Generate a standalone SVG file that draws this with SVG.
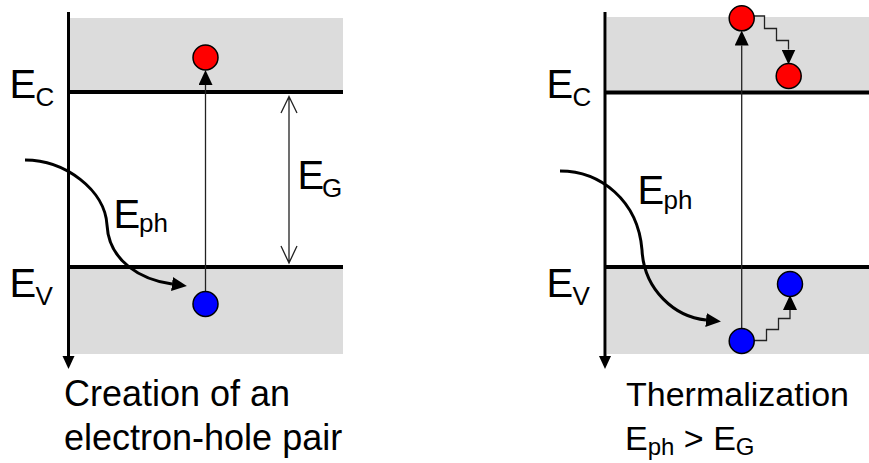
<svg xmlns="http://www.w3.org/2000/svg" width="869" height="463" viewBox="0 0 869 463">
<style>
.band{fill:#dcdcdc;stroke:none}
.level{stroke:#000;stroke-width:4;fill:none}
.axis{stroke:#000;stroke-width:3;fill:none}
.thin{stroke:#222;stroke-width:1.3;fill:none}
.curve{stroke:#000;stroke-width:3;fill:none}
.e{fill:#ff0000;stroke:#000;stroke-width:1.5}
.h{fill:#0000ff;stroke:#000;stroke-width:1.5}
text{font-family:"Liberation Sans",Arial,sans-serif;fill:#000}
.lbl{font-size:40px}
.sub{font-size:26px}
.cap{font-size:34px}
.capl{font-size:36px}
.capsub{font-size:24px}
</style>
<defs>
<marker id="ah" markerUnits="userSpaceOnUse" markerWidth="15" markerHeight="14" viewBox="0 0 15 14" refX="0" refY="7" orient="auto">
<path d="M0,0 L15,7 L0,14 z" fill="#000"/>
</marker>
</defs>

<g id="left-panel">
<rect class="band" x="70" y="18" width="273" height="74"/>
<rect class="band" x="70" y="267" width="273" height="87"/>
<line class="level" x1="68" y1="92" x2="343" y2="92"/>
<line class="level" x1="68" y1="267" x2="343" y2="267"/>
<line class="axis" x1="68.5" y1="12" x2="68.5" y2="358"/>
<polygon points="62.5,356 74.5,356 68.5,369" fill="#000"/>
<text class="lbl" x="9.5" y="98">E<tspan class="sub" x="35.5" y="106">C</tspan></text>
<text class="lbl" x="9.5" y="297">E<tspan class="sub" x="35.5" y="305">V</tspan></text>
<text class="lbl" x="297.5" y="188.5">E<tspan class="sub" x="322" y="196.5">G</tspan></text>
<text class="lbl" x="113.5" y="228">E<tspan class="sub" x="139" y="232">ph</tspan></text>
</g>

<g id="right-panel">
<rect class="band" x="607" y="17" width="262" height="75"/>
<rect class="band" x="607" y="267" width="262" height="87"/>
<line class="level" x1="605" y1="92.5" x2="869" y2="92.5"/>
<line class="level" x1="605" y1="267" x2="869" y2="267"/>
<line class="axis" x1="605" y1="12" x2="605" y2="358"/>
<polygon points="599,356 611,356 605,369" fill="#000"/>
<text class="lbl" x="546.5" y="98">E<tspan class="sub" x="572.5" y="106">C</tspan></text>
<text class="lbl" x="546.5" y="297">E<tspan class="sub" x="572.5" y="305">V</tspan></text>
<text class="lbl" x="637.5" y="203.5">E<tspan class="sub" x="663.5" y="208.5">ph</tspan></text>
</g>

<g id="connectors">
<line class="thin" x1="205.5" y1="292" x2="205.5" y2="85" marker-end="url(#ah)"/>
<path class="thin" d="M281,113 L289,96.5 L297,113 M289,96.5 V263 M281,246 L289,263 L297,246"/>
<path class="curve" d="M25,160 C65,160 105,190 107,225 C109,262 142,280 172,284" marker-end="url(#ah)"/>
<line class="thin" x1="741.7" y1="328.5" x2="741.7" y2="45.5" marker-end="url(#ah)"/>
<path class="thin" d="M754,16 H764.5 V28.5 H776.5 V40.5 H788.5 V49.5" marker-end="url(#ah)"/>
<path class="thin" d="M754,340.5 H766.5 V329.5 H778.5 V318.5 H790 V310" marker-end="url(#ah)"/>
<path class="curve" d="M560,171 C600,171 638,200 642,250 C644,290 675,317 706,320" marker-end="url(#ah)"/>
</g>

<g id="particles">
<circle class="e" cx="205.5" cy="57.5" r="12.5"/>
<circle class="h" cx="205.5" cy="304" r="12.5"/>
<circle class="e" cx="741.7" cy="18.3" r="12.5"/>
<circle class="e" cx="788.7" cy="76" r="12.5"/>
<circle class="h" cx="741.7" cy="341" r="12.5"/>
<circle class="h" cx="790" cy="284" r="12.5"/>
</g>

<g id="captions">
<text class="capl" x="64" y="406">Creation of an</text>
<text class="capl" x="64" y="450">electron-hole pair</text>
<text class="cap" x="626" y="406">Thermalization</text>
<text class="cap" x="625" y="450">E<tspan class="capsub" dy="5">ph</tspan><tspan dy="-5"> &gt; E</tspan><tspan class="capsub" dy="5">G</tspan></text>
</g>
</svg>
